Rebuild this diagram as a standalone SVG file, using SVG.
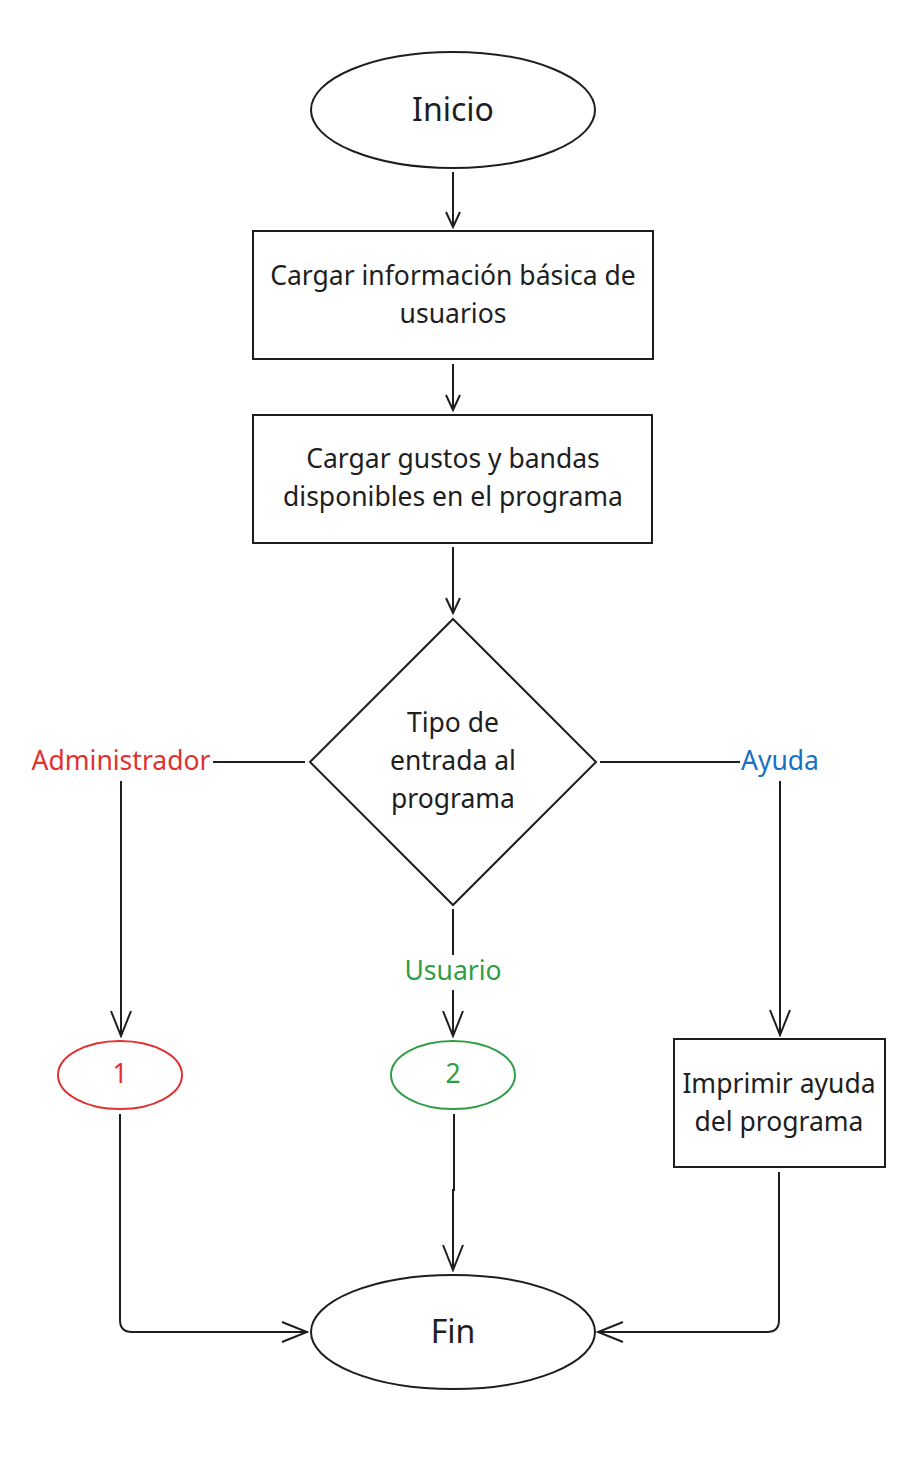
<svg xmlns="http://www.w3.org/2000/svg" width="918" height="1457" viewBox="0 0 918 1457">
<defs>
<style>
.s{fill:none;stroke:#1e1e1e;stroke-width:2}
.t{font-family:"Noto Sans","Open Sans",sans-serif;font-size:26.5px;fill:#1e1e1e;text-anchor:middle;dominant-baseline:central}
.big{font-size:32px}
.red{fill:#e03131}
.grn{fill:#2f9e44}
.blu{fill:#1971c2}
</style>
<marker id="as" markerUnits="userSpaceOnUse" markerWidth="18" markerHeight="16" viewBox="0 0 18 16" refX="16" refY="8" orient="auto">
<path d="M1,1 L16,8 L1,15" fill="none" stroke="#1e1e1e" stroke-width="2"/>
</marker>
<marker id="al" markerUnits="userSpaceOnUse" markerWidth="28" markerHeight="22" viewBox="0 0 28 22" refX="26" refY="11" orient="auto">
<path d="M1,1 L26,11 L1,21" fill="none" stroke="#1e1e1e" stroke-width="2"/>
</marker>
</defs>
<rect width="918" height="1457" fill="#ffffff"/>
<g id="connectors">
<path class="s" d="M453,172 L453,227" marker-end="url(#as)"/>
<path class="s" d="M453,364 L453,410" marker-end="url(#as)"/>
<path class="s" d="M453,547 L453,613" marker-end="url(#as)"/>
<path class="s" d="M305,762 L213,762"/>
<path class="s" d="M121,781 L121,1036" marker-end="url(#al)"/>
<path class="s" d="M600,762 L740,762"/>
<path class="s" d="M780,781 L780,1035" marker-end="url(#al)"/>
<path class="s" d="M453,909 L453,955"/>
<path class="s" d="M453,990 L453,1036" marker-end="url(#al)"/>
<path class="s" d="M120,1114 L120,1320 Q120,1332 132,1332 L307,1332" marker-end="url(#al)"/>
<path class="s" d="M454,1114 L454,1190 L453,1190 L453,1270" marker-end="url(#al)"/>
<path class="s" d="M779,1172 L779,1320 Q779,1332 767,1332 L598,1332" marker-end="url(#al)"/>
<text class="t red" x="121" y="760">Administrador</text>
<text class="t blu" x="780" y="760">Ayuda</text>
<text class="t grn" x="453" y="970">Usuario</text>
</g>
<g id="inicio">
<ellipse class="s" cx="453" cy="110" rx="142" ry="58"/>
<text class="t big" x="453" y="108">Inicio</text>
</g>
<g id="cargar-info">
<rect class="s" x="253" y="231" width="400" height="128"/>
<text class="t" x="453" y="275">Cargar información básica de</text>
<text class="t" x="453" y="313">usuarios</text>
</g>
<g id="cargar-gustos">
<rect class="s" x="253" y="415" width="399" height="128"/>
<text class="t" x="453" y="458">Cargar gustos y bandas</text>
<text class="t" x="453" y="496">disponibles en el programa</text>
</g>
<g id="tipo-entrada">
<path class="s" d="M453,619 L596,762 L453,905 L310,762 Z"/>
<text class="t" x="453" y="722">Tipo de</text>
<text class="t" x="453" y="760">entrada al</text>
<text class="t" x="453" y="798">programa</text>
</g>
<g id="nodo-1">
<ellipse cx="120" cy="1075" rx="62" ry="34" fill="none" stroke="#e03131" stroke-width="2"/>
<text class="t red" x="120" y="1073">1</text>
</g>
<g id="nodo-2">
<ellipse cx="453" cy="1075" rx="62" ry="34" fill="none" stroke="#2f9e44" stroke-width="2"/>
<text class="t grn" x="453" y="1073">2</text>
</g>
<g id="imprimir-ayuda">
<rect class="s" x="674" y="1039" width="211" height="128"/>
<text class="t" x="779" y="1083">Imprimir ayuda</text>
<text class="t" x="779" y="1121">del programa</text>
</g>
<g id="fin">
<ellipse class="s" cx="453" cy="1332" rx="142" ry="57"/>
<text class="t big" x="453" y="1330">Fin</text>
</g>
</svg>
